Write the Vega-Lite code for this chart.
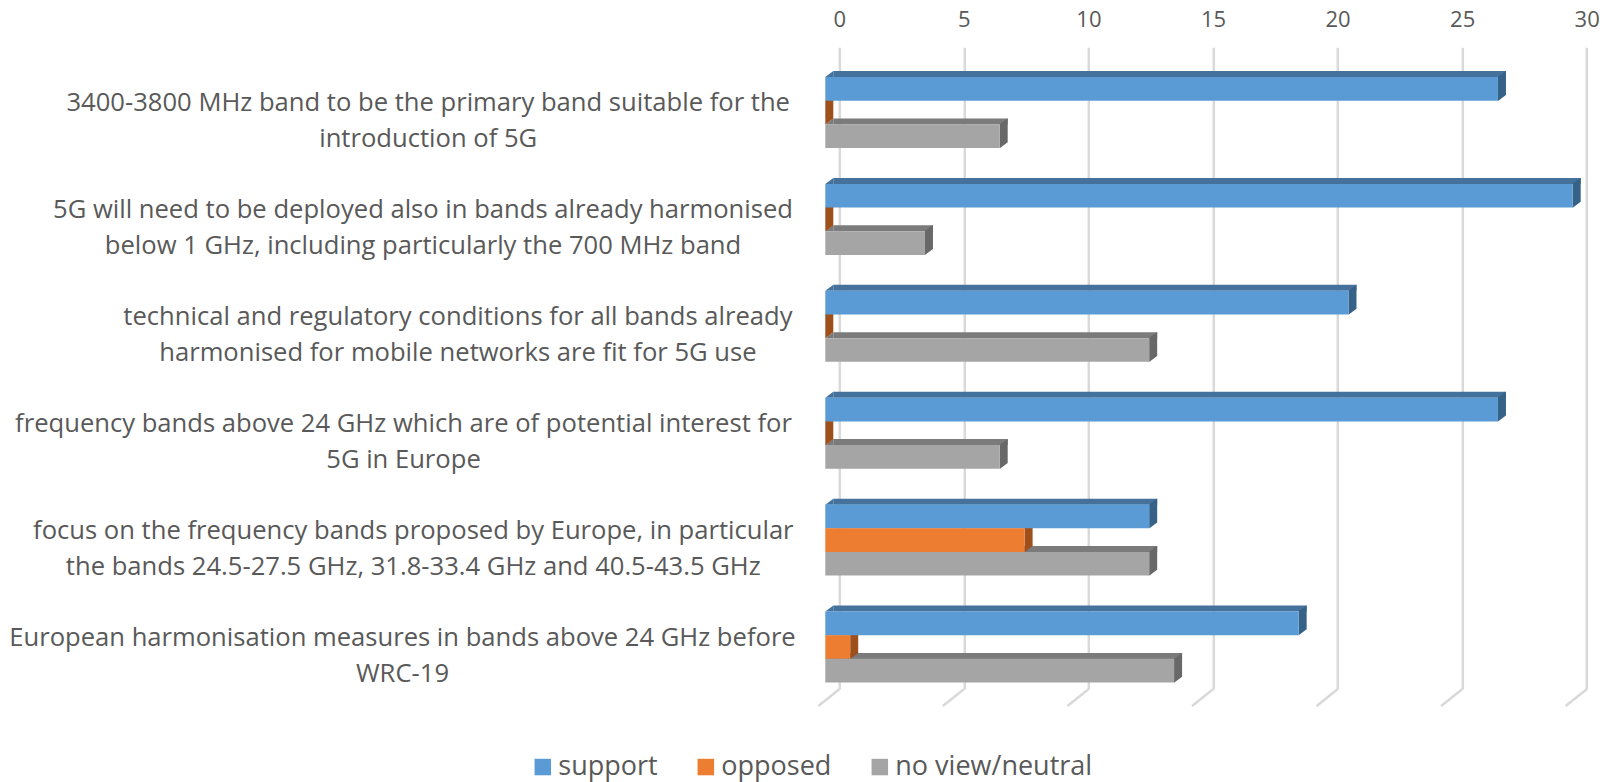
{"$schema":"https://vega.github.io/schema/vega-lite/v6.json","width":747.4,"height":642,"autosize":{"type":"none"},"padding":{"left":839.3,"top":47.3,"right":23.3,"bottom":92.7},"background":"white","datasets":{"main":[
{"cat":"3400-3800 MHz band to be the primary band suitable for the\nintroduction of 5G","series":"support","value":27},{"cat":"3400-3800 MHz band to be the primary band suitable for the\nintroduction of 5G","series":"opposed","value":0},{"cat":"3400-3800 MHz band to be the primary band suitable for the\nintroduction of 5G","series":"no view/neutral","value":7},
{"cat":"5G will need to be deployed also in bands already harmonised\nbelow 1 GHz, including particularly the 700 MHz band","series":"support","value":30},{"cat":"5G will need to be deployed also in bands already harmonised\nbelow 1 GHz, including particularly the 700 MHz band","series":"opposed","value":0},{"cat":"5G will need to be deployed also in bands already harmonised\nbelow 1 GHz, including particularly the 700 MHz band","series":"no view/neutral","value":4},
{"cat":"technical and regulatory conditions for all bands already\nharmonised for mobile networks are fit for 5G use","series":"support","value":21},{"cat":"technical and regulatory conditions for all bands already\nharmonised for mobile networks are fit for 5G use","series":"opposed","value":0},{"cat":"technical and regulatory conditions for all bands already\nharmonised for mobile networks are fit for 5G use","series":"no view/neutral","value":13},
{"cat":"frequency bands above 24 GHz which are of potential interest for\n5G in Europe","series":"support","value":27},{"cat":"frequency bands above 24 GHz which are of potential interest for\n5G in Europe","series":"opposed","value":0},{"cat":"frequency bands above 24 GHz which are of potential interest for\n5G in Europe","series":"no view/neutral","value":7},
{"cat":"focus on the frequency bands proposed by Europe, in particular\nthe bands 24.5-27.5 GHz, 31.8-33.4 GHz and 40.5-43.5 GHz","series":"support","value":13},{"cat":"focus on the frequency bands proposed by Europe, in particular\nthe bands 24.5-27.5 GHz, 31.8-33.4 GHz and 40.5-43.5 GHz","series":"opposed","value":8},{"cat":"focus on the frequency bands proposed by Europe, in particular\nthe bands 24.5-27.5 GHz, 31.8-33.4 GHz and 40.5-43.5 GHz","series":"no view/neutral","value":13},
{"cat":"European harmonisation measures in bands above 24 GHz before\nWRC-19","series":"support","value":19},{"cat":"European harmonisation measures in bands above 24 GHz before\nWRC-19","series":"opposed","value":1},{"cat":"European harmonisation measures in bands above 24 GHz before\nWRC-19","series":"no view/neutral","value":14}
],"ticks":[{"tick":0},{"tick":5},{"tick":10},{"tick":15},{"tick":20},{"tick":25},{"tick":30}]},
"data":{"name":"main"},
"encoding":{
"x":{"field":"value","type":"quantitative","title":null,"scale":{"domain":[0,30],"nice":false},"axis":{"orient":"top","values":[0,5,10,15,20,25,30],"domain":false,"ticks":false,"grid":true,"gridColor":"#d9d9d9","gridWidth":2.5,"labelFont":"Open Sans","labelFontSize":22,"labelColor":"#595959","labelPadding":16,"labelFlush":false,"labelOverlap":false}},
"y":{"field":"cat","type":"nominal","title":null,"sort":null,"scale":{"domain":["3400-3800 MHz band to be the primary band suitable for the\nintroduction of 5G","5G will need to be deployed also in bands already harmonised\nbelow 1 GHz, including particularly the 700 MHz band","technical and regulatory conditions for all bands already\nharmonised for mobile networks are fit for 5G use","frequency bands above 24 GHz which are of potential interest for\n5G in Europe","focus on the frequency bands proposed by Europe, in particular\nthe bands 24.5-27.5 GHz, 31.8-33.4 GHz and 40.5-43.5 GHz","European harmonisation measures in bands above 24 GHz before\nWRC-19"],"paddingInner":0.336,"paddingOuter":0.171,"align":0.8},"axis":{"domain":false,"ticks":false,"labelFont":"Open Sans","labelFontSize":25.6,"labelColor":"#595959","labelLimit":900,"labelLineHeight":36,"labelAlign":"center","labelOffset":-8.9,"labelExpr":"split(datum.value,'\\n')","labelPadding":{"condition":[{"test":"indexof(datum.value,'3400')==0","value":411.6},{"test":"indexof(datum.value,'5G will')==0","value":416.8},{"test":"indexof(datum.value,'technical')==0","value":381.9},{"test":"indexof(datum.value,'frequency')==0","value":436.3},{"test":"indexof(datum.value,'focus')==0","value":426.5}],"value":437.3}}}
},
"layer":[
{"data":{"name":"ticks"},"mark":{"type":"point","shape":"M1 -0.795L-1 0.795","size":441,"filled":false,"stroke":"#d9d9d9","strokeWidth":2.5,"opacity":1,"xOffset":-10.5,"yOffset":51.1},"encoding":{"x":{"field":"tick","type":"quantitative"},"y":{"datum":"European harmonisation measures in bands above 24 GHz before\nWRC-19"}}},
{"layer":[
{"mark":{"type":"bar","height":6,"xOffset":-6,"x2Offset":-6},"encoding":{"yOffset":{"field":"series","type":"nominal","sort":["support","opposed","no view/neutral"],"scale":{"domain":["support","opposed","no view/neutral"],"range":[-14.3,56.7]}},"color":{"field":"series","type":"nominal","legend":null,"scale":{"domain":["support","opposed","no view/neutral"],"range":["#44729d","#ae5a21","#7b7b7b"]}}}},
{"mark":{"type":"point","shape":"M-1 0.75L1 0.75L1 -0.75Z","size":64,"filled":true,"opacity":1,"xOffset":-10},"encoding":{"yOffset":{"field":"series","type":"nominal","sort":["support","opposed","no view/neutral"],"scale":{"domain":["support","opposed","no view/neutral"],"range":[-14.3,56.7]}},"x":{"datum":0},"color":{"field":"series","type":"nominal","legend":null,"scale":{"domain":["support","opposed","no view/neutral"],"range":["#44729d","#ae5a21","#7b7b7b"]}}}},
{"mark":{"type":"point","shape":"M-0.267 -0.6L0.267 -1L0.267 0.6L-0.267 1Z","size":900,"filled":true,"opacity":1,"xOffset":-10},"encoding":{"yOffset":{"field":"series","type":"nominal","sort":["support","opposed","no view/neutral"],"scale":{"domain":["support","opposed","no view/neutral"],"range":[-2.5,68.5]}},"color":{"field":"series","type":"nominal","legend":null,"scale":{"domain":["support","opposed","no view/neutral"],"range":["#376288","#9e4f1b","#686868"]}}}},
{"mark":{"type":"bar","xOffset":-14,"x2Offset":-14},"encoding":{"yOffset":{"field":"series","type":"nominal","sort":["support","opposed","no view/neutral"],"scale":{"domain":["support","opposed","no view/neutral"],"range":[0.5,71.5]}},"color":{"field":"series","type":"nominal","scale":{"domain":["support","opposed","no view/neutral"],"range":["#5b9bd5","#ed7d31","#a5a5a5"]},"legend":{"title":null,"orient":"none","legendX":-310,"legendY":706,"direction":"horizontal","columns":3,"columnPadding":34,"labelFont":"Open Sans","labelFontSize":27,"labelColor":"#595959","labelLimit":400,"symbolType":"square","symbolSize":272,"symbolStrokeWidth":0,"labelOffset":2}}}}
],
"resolve":{"scale":{"color":"independent","yOffset":"independent"}}}
],
"resolve":{"scale":{"color":"independent","yOffset":"independent"}},
"config":{"view":{"stroke":null}}}
